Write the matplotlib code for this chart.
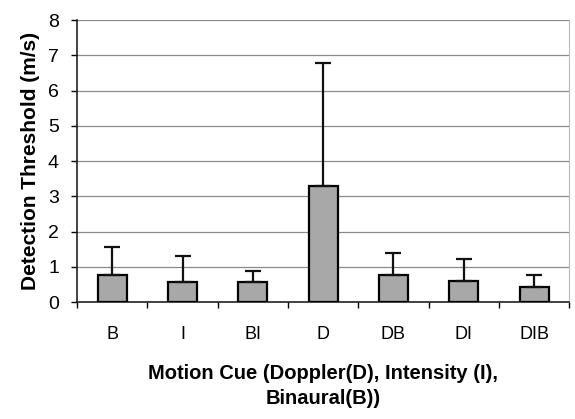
import numpy as np
import matplotlib
matplotlib.use('Agg')
import matplotlib.pyplot as plt

# motion cue conditions and detection thresholds (m/s)
cues = ['B', 'I', 'BI', 'D', 'DB', 'DI', 'DIB']
threshold = [0.78, 0.58, 0.56, 3.29, 0.77, 0.60, 0.43]
err_top = [1.56, 1.30, 0.89, 6.77, 1.40, 1.22, 0.77]  # top of error bar

plt.rcParams['font.family'] = ['Liberation Sans', 'DejaVu Sans']

fig = plt.figure(figsize=(5.75, 4.19), dpi=100)
ax = fig.add_axes([0.134, 0.279, 0.856, 0.673])

x = np.arange(len(cues))
yerr_up = [t - v for t, v in zip(err_top, threshold)]
yerr = [np.zeros(len(cues)), yerr_up]

ax.bar(x, threshold, width=0.41, color='#a8a8a8', edgecolor='black', linewidth=1.6, zorder=3)
ax.errorbar(x, threshold, yerr=yerr, fmt='none', ecolor='#111111', elinewidth=1.6,
            capsize=6, capthick=1.6, zorder=4)

ax.set_xlim(-0.5, 6.5)
ax.set_ylim(0, 8)
ax.set_yticks(range(0, 9))
ax.tick_params(axis='y', labelsize=14, length=4, width=1, pad=9)
ax.yaxis.grid(True, color='#8a8a8a', linewidth=0.9, zorder=0)
ax.set_axisbelow(True)

# category labels at centres, tick marks between categories
ax.set_xticks(x)
ax.set_xticklabels(cues, fontsize=13)
ax.tick_params(axis='x', length=0, pad=17)
ax.set_xticks(np.arange(-0.5, 7, 1), minor=True)
ax.tick_params(axis='x', which='minor', length=4, width=1, direction='out')

for s in ['left', 'bottom']:
    ax.spines[s].set_color('#222222')
    ax.spines[s].set_linewidth(1.2)
ax.spines['top'].set_visible(False)
ax.spines['right'].set_color('#bbbbbb')

ax.set_ylabel('Detection Threshold (m/s)', fontsize=15, fontweight='bold', labelpad=6)
ax.set_xlabel('Motion Cue (Doppler(D), Intensity (I),\nBinaural(B))', fontsize=14.5,
              fontweight='bold', labelpad=15, linespacing=1.4)

fig.savefig('out.png', dpi=100)
